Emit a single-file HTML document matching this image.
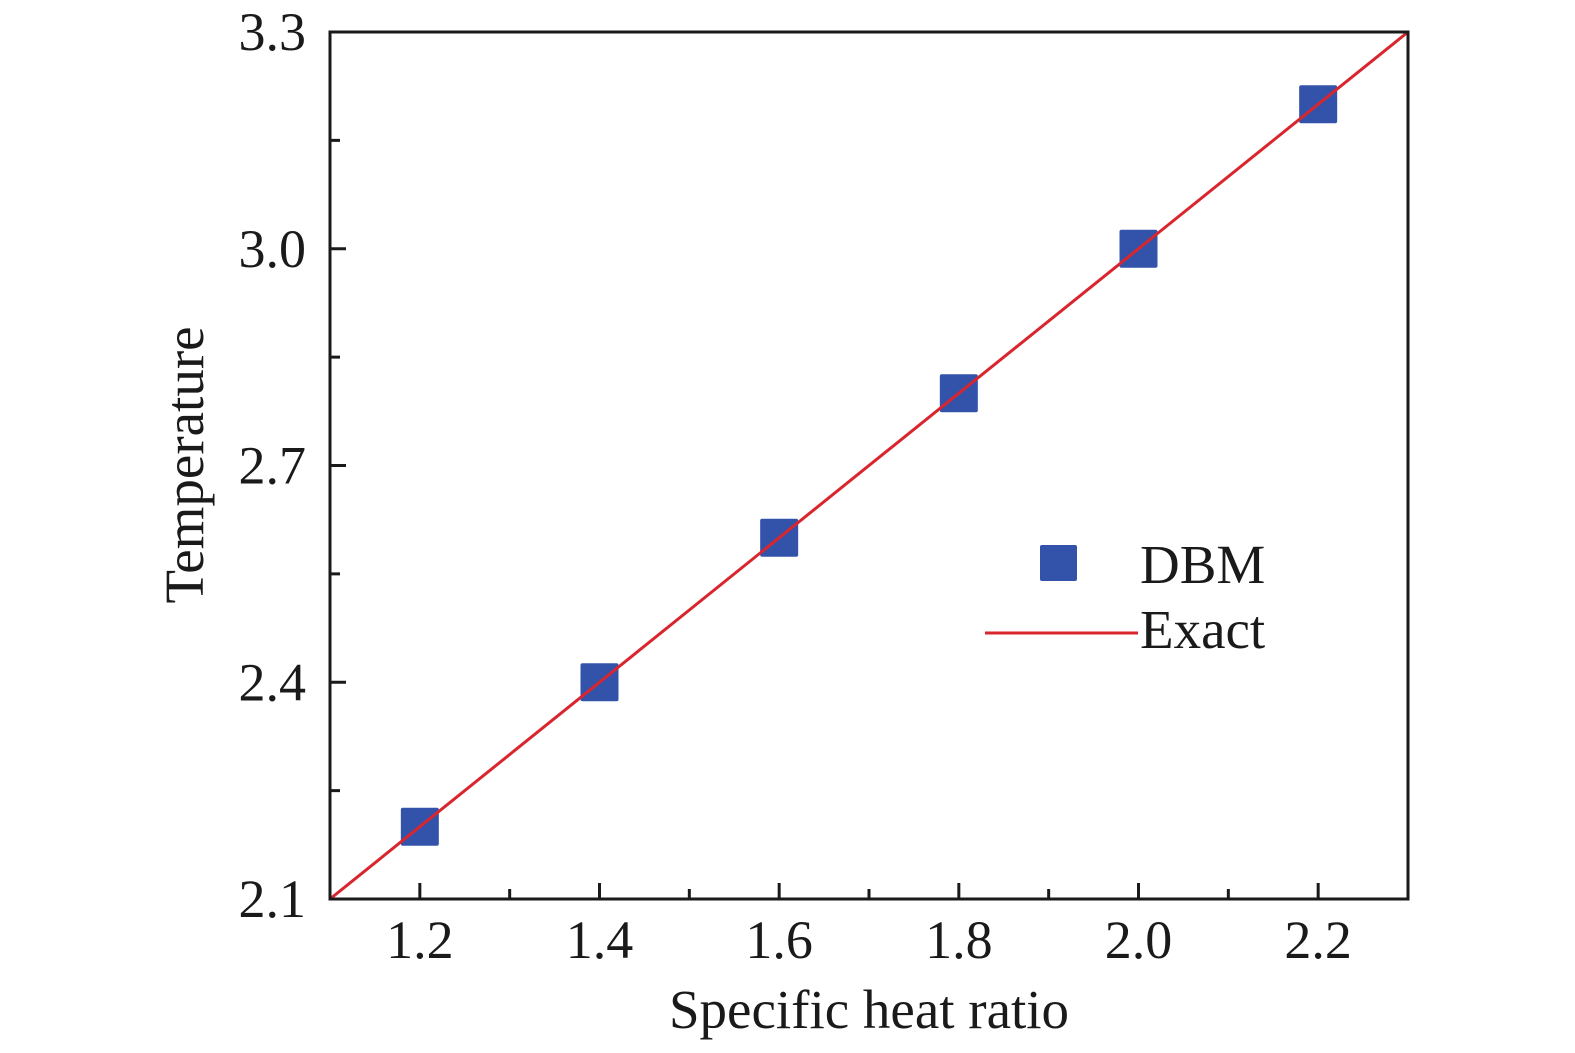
<!DOCTYPE html>
<html><head><meta charset="utf-8"><style>
html,body{margin:0;padding:0;background:#fff}
svg{display:block;font-family:"Liberation Serif",serif}
</style></head><body>
<svg id="chart" width="1575" height="1053" viewBox="0 0 1575 1053" xmlns="http://www.w3.org/2000/svg">
<g id="marks"></g>
<rect x="330" y="32" width="1078" height="867" fill="none" stroke="#1a1a1a" stroke-width="3"/>
<g id="ticks"></g>
<text x="869" y="1028" font-size="55" text-anchor="middle" fill="#1a1a1a">Specific heat ratio</text>
<text transform="translate(203,465) rotate(-90)" font-size="55" text-anchor="middle" fill="#1a1a1a">Temperature</text>
<g>
<rect x="1040" y="545" width="37" height="36" rx="2" fill="#3352aa"/>
<text x="1140" y="583" font-size="55" fill="#1a1a1a">DBM</text>
<line x1="985" y1="633" x2="1138" y2="633" stroke="#d9262e" stroke-width="3"/>
<text x="1140" y="648" font-size="55" fill="#1a1a1a">Exact</text>
</g>
</svg>
<script>
const xValues = [1.2, 1.4, 1.6, 1.8, 2.0, 2.2];
const dbmValues = [2.2, 2.4, 2.6, 2.8, 3.0, 3.2];
const exactX = [1.1, 2.3];
const exactY = [2.1, 3.3];
const xTickLabels = ["1.2", "1.4", "1.6", "1.8", "2.0", "2.2"];
const yTickLabels = ["2.1", "2.4", "2.7", "3.0", "3.3"];
const xMinorTicks = [1.3, 1.5, 1.7, 1.9, 2.1];
const yMinorTicks = [2.25, 2.55, 2.85, 3.15];

const L=330,R=1408,T=32,B=899, X0=1.1,X1=2.3,Y0=2.1,Y1=3.3;
const sx=v=>L+(v-X0)/(X1-X0)*(R-L);
const sy=v=>B-(v-Y0)/(Y1-Y0)*(B-T);
const NS='http://www.w3.org/2000/svg';
function mk(tag,attrs,parent){const e=document.createElementNS(NS,tag);for(const k in attrs)e.setAttribute(k,attrs[k]);parent.appendChild(e);return e;}
const marks=document.getElementById('marks'), ticks=document.getElementById('ticks');

xValues.forEach((x,i)=>{
  const r=mk('rect',{x:sx(x)-19,y:sy(dbmValues[i])-19,width:38,height:38,rx:2,fill:'#3352aa'},marks);
  
  
});
const ln=mk('line',{x1:sx(exactX[0]),y1:sy(exactY[0]),x2:sx(exactX[1]),y2:sy(exactY[1]),stroke:'#d9262e','stroke-width':3},marks);



xTickLabels.forEach(s=>{
  const v=parseFloat(s),x=sx(v);
  const t=mk('line',{x1:x,y1:B,x2:x,y2:B-16,stroke:'#1a1a1a','stroke-width':3},ticks);
  
  
  const tx=mk('text',{x:x,y:958,'font-size':54,'text-anchor':'middle',fill:'#1a1a1a'},ticks);
  tx.textContent=s;
  
  
});
xMinorTicks.forEach(v=>{
  const t=mk('line',{x1:sx(v),y1:B,x2:sx(v),y2:B-10,stroke:'#1a1a1a','stroke-width':3},ticks);
  
  
});
yTickLabels.forEach(s=>{
  const v=parseFloat(s),y=sy(v);
  const t=mk('line',{x1:L,y1:y,x2:L+16,y2:y,stroke:'#1a1a1a','stroke-width':3},ticks);
  
  
  const tx=mk('text',{x:306,y:y+18,'font-size':54,'text-anchor':'end',fill:'#1a1a1a'},ticks);
  tx.textContent=s;
  
  
});
yMinorTicks.forEach(v=>{
  const t=mk('line',{x1:L,y1:sy(v),x2:L+10,y2:sy(v),stroke:'#1a1a1a','stroke-width':3},ticks);
  
  
});
</script>
</body></html>
